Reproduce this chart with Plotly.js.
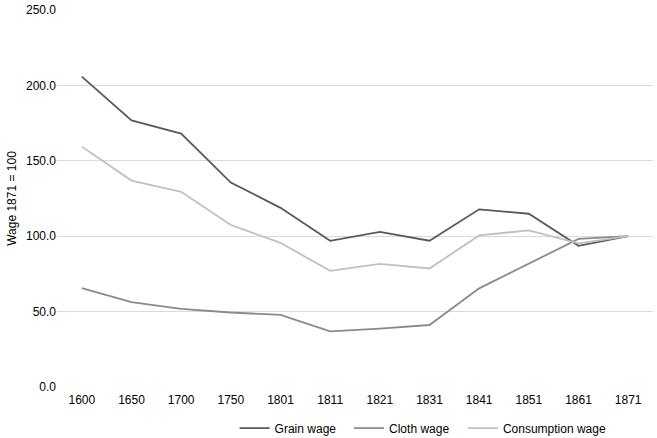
<!DOCTYPE html>
<html>
<head>
<meta charset="utf-8">
<script src="https://cdn.plot.ly/plotly-3.0.1.min.js"></script>
<style>html,body{margin:0;padding:0;background:#fff;}#chart{width:657px;height:438px;}</style>
</head>
<body>
<div id="chart"></div>
<script>
var years = ["1600","1650","1700","1750","1801","1811","1821","1831","1841","1851","1861","1871"];
var grainWage = [205.8, 176.8, 168.0, 135.6, 118.8, 96.9, 102.9, 97.0, 117.8, 114.9, 93.6, 100.0];
var clothWage = [65.6, 56.3, 51.8, 49.4, 47.8, 36.9, 38.7, 41.1, 65.4, 81.8, 98.2, 100.0];
var consumptionWage = [159.4, 136.9, 129.4, 107.4, 95.6, 77.0, 81.7, 78.6, 100.5, 103.9, 95.3, 100.0];
var yTicks = [0, 50, 100, 150, 200, 250];
var yTickLabels = ["0.0", "50.0", "100.0", "150.0", "200.0", "250.0"];

var font = {family: "Liberation Sans, Arial, sans-serif", size: 12, color: "#000"};
var traces = [
  {x: years, y: grainWage, name: "Grain wage", type: "scatter", mode: "lines", line: {color: "#595959", width: 1.8}, legend: "legend"},
  {x: years, y: clothWage, name: "Cloth wage", type: "scatter", mode: "lines", line: {color: "#8a8a8a", width: 1.8}, legend: "legend2"},
  {x: years, y: consumptionWage, name: "Consumption wage", type: "scatter", mode: "lines", line: {color: "#c0c0c0", width: 1.8}, legend: "legend3"}
];
function leg(x) {
  return {orientation: "h", x: x, xanchor: "left", y: -0.109, yanchor: "middle", font: font, bgcolor: "rgba(0,0,0,0)"};
}
var layout = {
  width: 657, height: 438,
  margin: {l: 57, r: 4, t: 10, b: 51, autoexpand: false},
  paper_bgcolor: "#fff", plot_bgcolor: "#fff",
  font: font,
  showlegend: true,
  legend: leg(0.298),
  legend2: leg(0.490),
  legend3: leg(0.681),
  xaxis: {type: "category", range: [-0.5, 11.5], showgrid: false, zeroline: false, showline: false, ticks: "", tickfont: font, ticklabelstandoff: 4, fixedrange: true},
  yaxis: {range: [0, 250], tickvals: yTicks, ticktext: yTickLabels, showgrid: true, gridcolor: "#d9d9d9", gridwidth: 1, zeroline: false, showline: false, ticks: "", tickfont: font,
          title: {text: "Wage 1871 = 100", font: font, standoff: 6}, fixedrange: true}
};
Plotly.newPlot("chart", traces, layout, {displayModeBar: false, staticPlot: true});
</script>
</body>
</html>
